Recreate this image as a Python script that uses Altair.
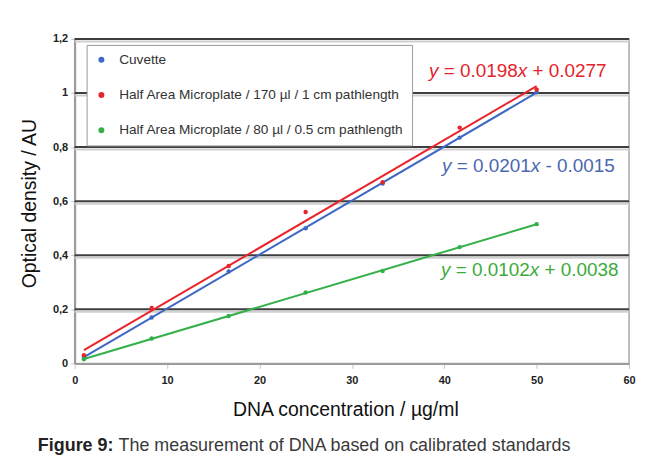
import altair as alt
import pandas as pd

# ---- data ----
series_names = ["Cuvette",
                "Half Area Microplate / 170 µl / 1 cm pathlength",
                "Half Area Microplate / 80 µl / 0.5 cm pathlength"]
series_colors = ["#3d68c4", "#e8252b", "#34b04a"]
text_colors = ["#4b67b0", "#e3242b", "#3dab3a"]

conc = [1, 8.33, 16.67, 25, 33.33, 41.67, 50]
cuvette = [0.022, 0.17, 0.34, 0.50, 0.665, 0.835, 1.003]
half170 = [0.03, 0.205, 0.36, 0.56, 0.67, 0.872, 1.013]
half80 = [0.015, 0.092, 0.175, 0.262, 0.342, 0.43, 0.515]

y_ticks = [0, 0.2, 0.4, 0.6, 0.8, 1.0, 1.2]
x_ticks = [0, 10, 20, 30, 40, 50, 60]
grid_vals = [0.2, 0.4, 0.6, 0.8, 1.0, 1.2]

# equations: (series index, slope text, sign, intercept text)
equations = [
    (1, "0.0198", "+", "0.0277"),
    (0, "0.0201", "-", "0.0015"),
    (2, "0.0102", "+", "0.0038"),
]
# annotation anchors (plot-relative pixels) - layout
eq_anchor = [(356, 32), (369, 128), (368, 232)]

FONT = "Liberation Sans"
W, H = 557, 326

rows = []
for name, vals in zip(series_names, [cuvette, half170, half80]):
    for xv, yv in zip(conc, vals):
        rows.append({"series": name, "x": xv, "y": yv})
df = pd.DataFrame(rows)

color_scale = alt.Scale(domain=series_names, range=series_colors)
xs = alt.Scale(domain=[0, 60], nice=False)
ys = alt.Scale(domain=[0, 1.2], nice=False)
legend_spec = alt.Legend(title=None, orient="none", legendX=12, legendY=6)

base = alt.Chart(df)

lines = base.transform_regression(
    "x", "y", groupby=["series"], extent=[1, 50]
).mark_line(strokeWidth=2).encode(
    x=alt.X("x:Q", scale=xs),
    y=alt.Y("y:Q", scale=ys),
    color=alt.Color("series:N", scale=color_scale, sort=series_names, legend=legend_spec),
)

points = base.mark_point(filled=True, size=20, opacity=1).encode(
    x=alt.X("x:Q", scale=xs,
            axis=alt.Axis(values=x_ticks, title="DNA concentration / µg/ml",
                          titleX=272, titleY=46, titleAlign="center",
                          titleBaseline="middle", labelFlush=False)),
    y=alt.Y("y:Q", scale=ys,
            axis=alt.Axis(values=y_ticks, title="Optical density / AU",
                          titleX=-45, titleY=165, titleAlign="center",
                          titleBaseline="middle",
                          labelExpr="replace(format(datum.value, '.1~f'), '.', ',')")),
    color=alt.Color("series:N", scale=color_scale, sort=series_names, legend=legend_spec),
)

gdf = pd.DataFrame({"v": grid_vals})
shadow = alt.Chart(gdf).mark_rule(color="#cfcfcf", strokeWidth=2, yOffset=2.5).encode(
    y=alt.Y("v:Q", scale=ys))
grid = alt.Chart(gdf).mark_rule(color="#3e3e3e", strokeWidth=2).encode(
    y=alt.Y("v:Q", scale=ys))

# equation text pieces (italic y and x); Vega trims outer spaces, so the
# gaps are added to the offsets instead.
cw = {"y": 0.5, "x": 0.5, " ": 0.278, "=": 0.584, "+": 0.584, "-": 0.333, ".": 0.278}
def width(s, fs):
    return sum(cw.get(c, 0.556) for c in s) * fs

EQ_FS = 19
eq_layers = []
for (si, slope, sign, icpt), (ax, ay) in zip(equations, eq_anchor):
    pieces = [("y", "italic", " "), ("= " + slope, "normal", ""), ("x", "italic", " "),
              (sign + " " + icpt, "normal", "")]
    off = 0
    for txt, style, gap in pieces:
        eq_layers.append(
            alt.Chart(gdf).transform_filter("datum.v == 1.2").mark_text(
                text=txt, align="left", baseline="middle", fontSize=EQ_FS,
                fontStyle=style, font=FONT, color=text_colors[si]
            ).encode(x=alt.value(ax + off), y=alt.value(ay))
        )
        off += width(txt + gap, EQ_FS)

CAP_FS = 18
cap1 = alt.Chart(gdf).transform_filter("datum.v == 1.2").mark_text(
    text="Figure 9:", align="left", baseline="middle", fontSize=CAP_FS,
    fontWeight="bold", font=FONT, color="#222222"
).encode(x=alt.value(-37), y=alt.value(409))
cap2 = alt.Chart(gdf).transform_filter("datum.v == 1.2").mark_text(
    text="The measurement of DNA based on calibrated standards", align="left",
    baseline="middle", fontSize=CAP_FS, font=FONT, color="#3a3a3a"
).encode(x=alt.value(-37 + 4.501 * CAP_FS), y=alt.value(409))

chart = alt.layer(shadow, grid, lines, points, *eq_layers, cap1, cap2).properties(
    width=W, height=H,
    padding={"left": 67, "top": 30, "right": 8, "bottom": 97},
    autosize=alt.AutoSizeParams(type="none"),
    background="white",
).configure_view(
    stroke="#a8a8a8", strokeWidth=1.5
).configure_axis(
    grid=False, domainColor="#9b9b9b", domainWidth=2,
    tickColor="#c4c4c4", tickSize=4,
    labelFont=FONT, labelFontSize=11, labelFontWeight="bold", labelColor="#222222",
    labelPadding=3,
    titleFont=FONT, titleFontSize=19.5, titleFontWeight="normal", titleColor="#111111",
).configure_axisX(
    labelPadding=6, tickSize=5
).configure_legend(
    fillColor="white", strokeColor="#9a9a9a", padding=8,
    labelFont=FONT, labelFontSize=13.7, labelColor="#333333", labelLimit=400,
    symbolSize=20, symbolType="circle", rowPadding=20.5, labelOffset=11,
)

chart.save("out.html", embed_options={"renderer": "svg", "actions": False})
